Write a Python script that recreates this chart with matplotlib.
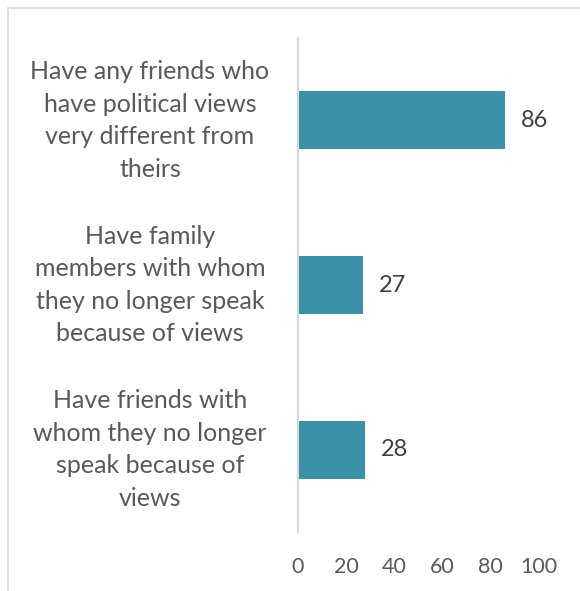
import matplotlib.pyplot as plt
from matplotlib.patches import Rectangle
import matplotlib.transforms as mtransforms

plt.rcParams['font.family'] = ['Lato', 'DejaVu Sans']

labels = [
    "Have any friends who\nhave political views\nvery different from\ntheirs",
    "Have family\nmembers with whom\nthey no longer speak\nbecause of views",
    "Have friends with\nwhom they no longer\nspeak because of\nviews",
]
values = [86, 27, 28]
xticks = [0, 20, 40, 60, 80, 100]

bar_color = '#3a91a8'
text_gray = '#595959'

fig = plt.figure(figsize=(5.8, 5.91), dpi=100)

# light frame around the whole chart area
fig.patches.append(Rectangle((8 / 580, -0.1), 1.2, 1 - 8 / 591 + 0.1,
                             transform=fig.transFigure, fill=False,
                             edgecolor='#d9d9d9', linewidth=1.2))

ax = fig.add_axes([298 / 580, 59 / 591, 241 / 580, 494 / 591])
ypos = list(range(len(values)))
ax.barh(ypos, values, height=0.354, color=bar_color)
ax.set_xlim(0, 100)
ax.set_ylim(len(values) - 0.5, -0.5)

for y, v in zip(ypos, values):
    ax.text(v + 6.5, y, str(v), va='center', ha='left', fontsize=17, color='#404040')

# category labels sit to the left of the axis, centred on each bar
trans = mtransforms.blended_transform_factory(fig.transFigure, ax.transData)
for y, lab in zip(ypos, labels):
    ax.text(150 / 580, y, lab, transform=trans, ha='center', va='center',
            multialignment='center', fontsize=18, color=text_gray,
            linespacing=1.5)

ax.set_xticks(xticks)
ax.set_xticklabels([str(t) for t in xticks], fontsize=15.5, color=text_gray)
ax.tick_params(axis='x', length=0, pad=18)
ax.set_yticks([])
for s in ['top', 'right', 'bottom']:
    ax.spines[s].set_visible(False)
ax.spines['left'].set_color('#d9d9d9')
ax.spines['left'].set_linewidth(1.5)

fig.savefig('out.png', dpi=100)
